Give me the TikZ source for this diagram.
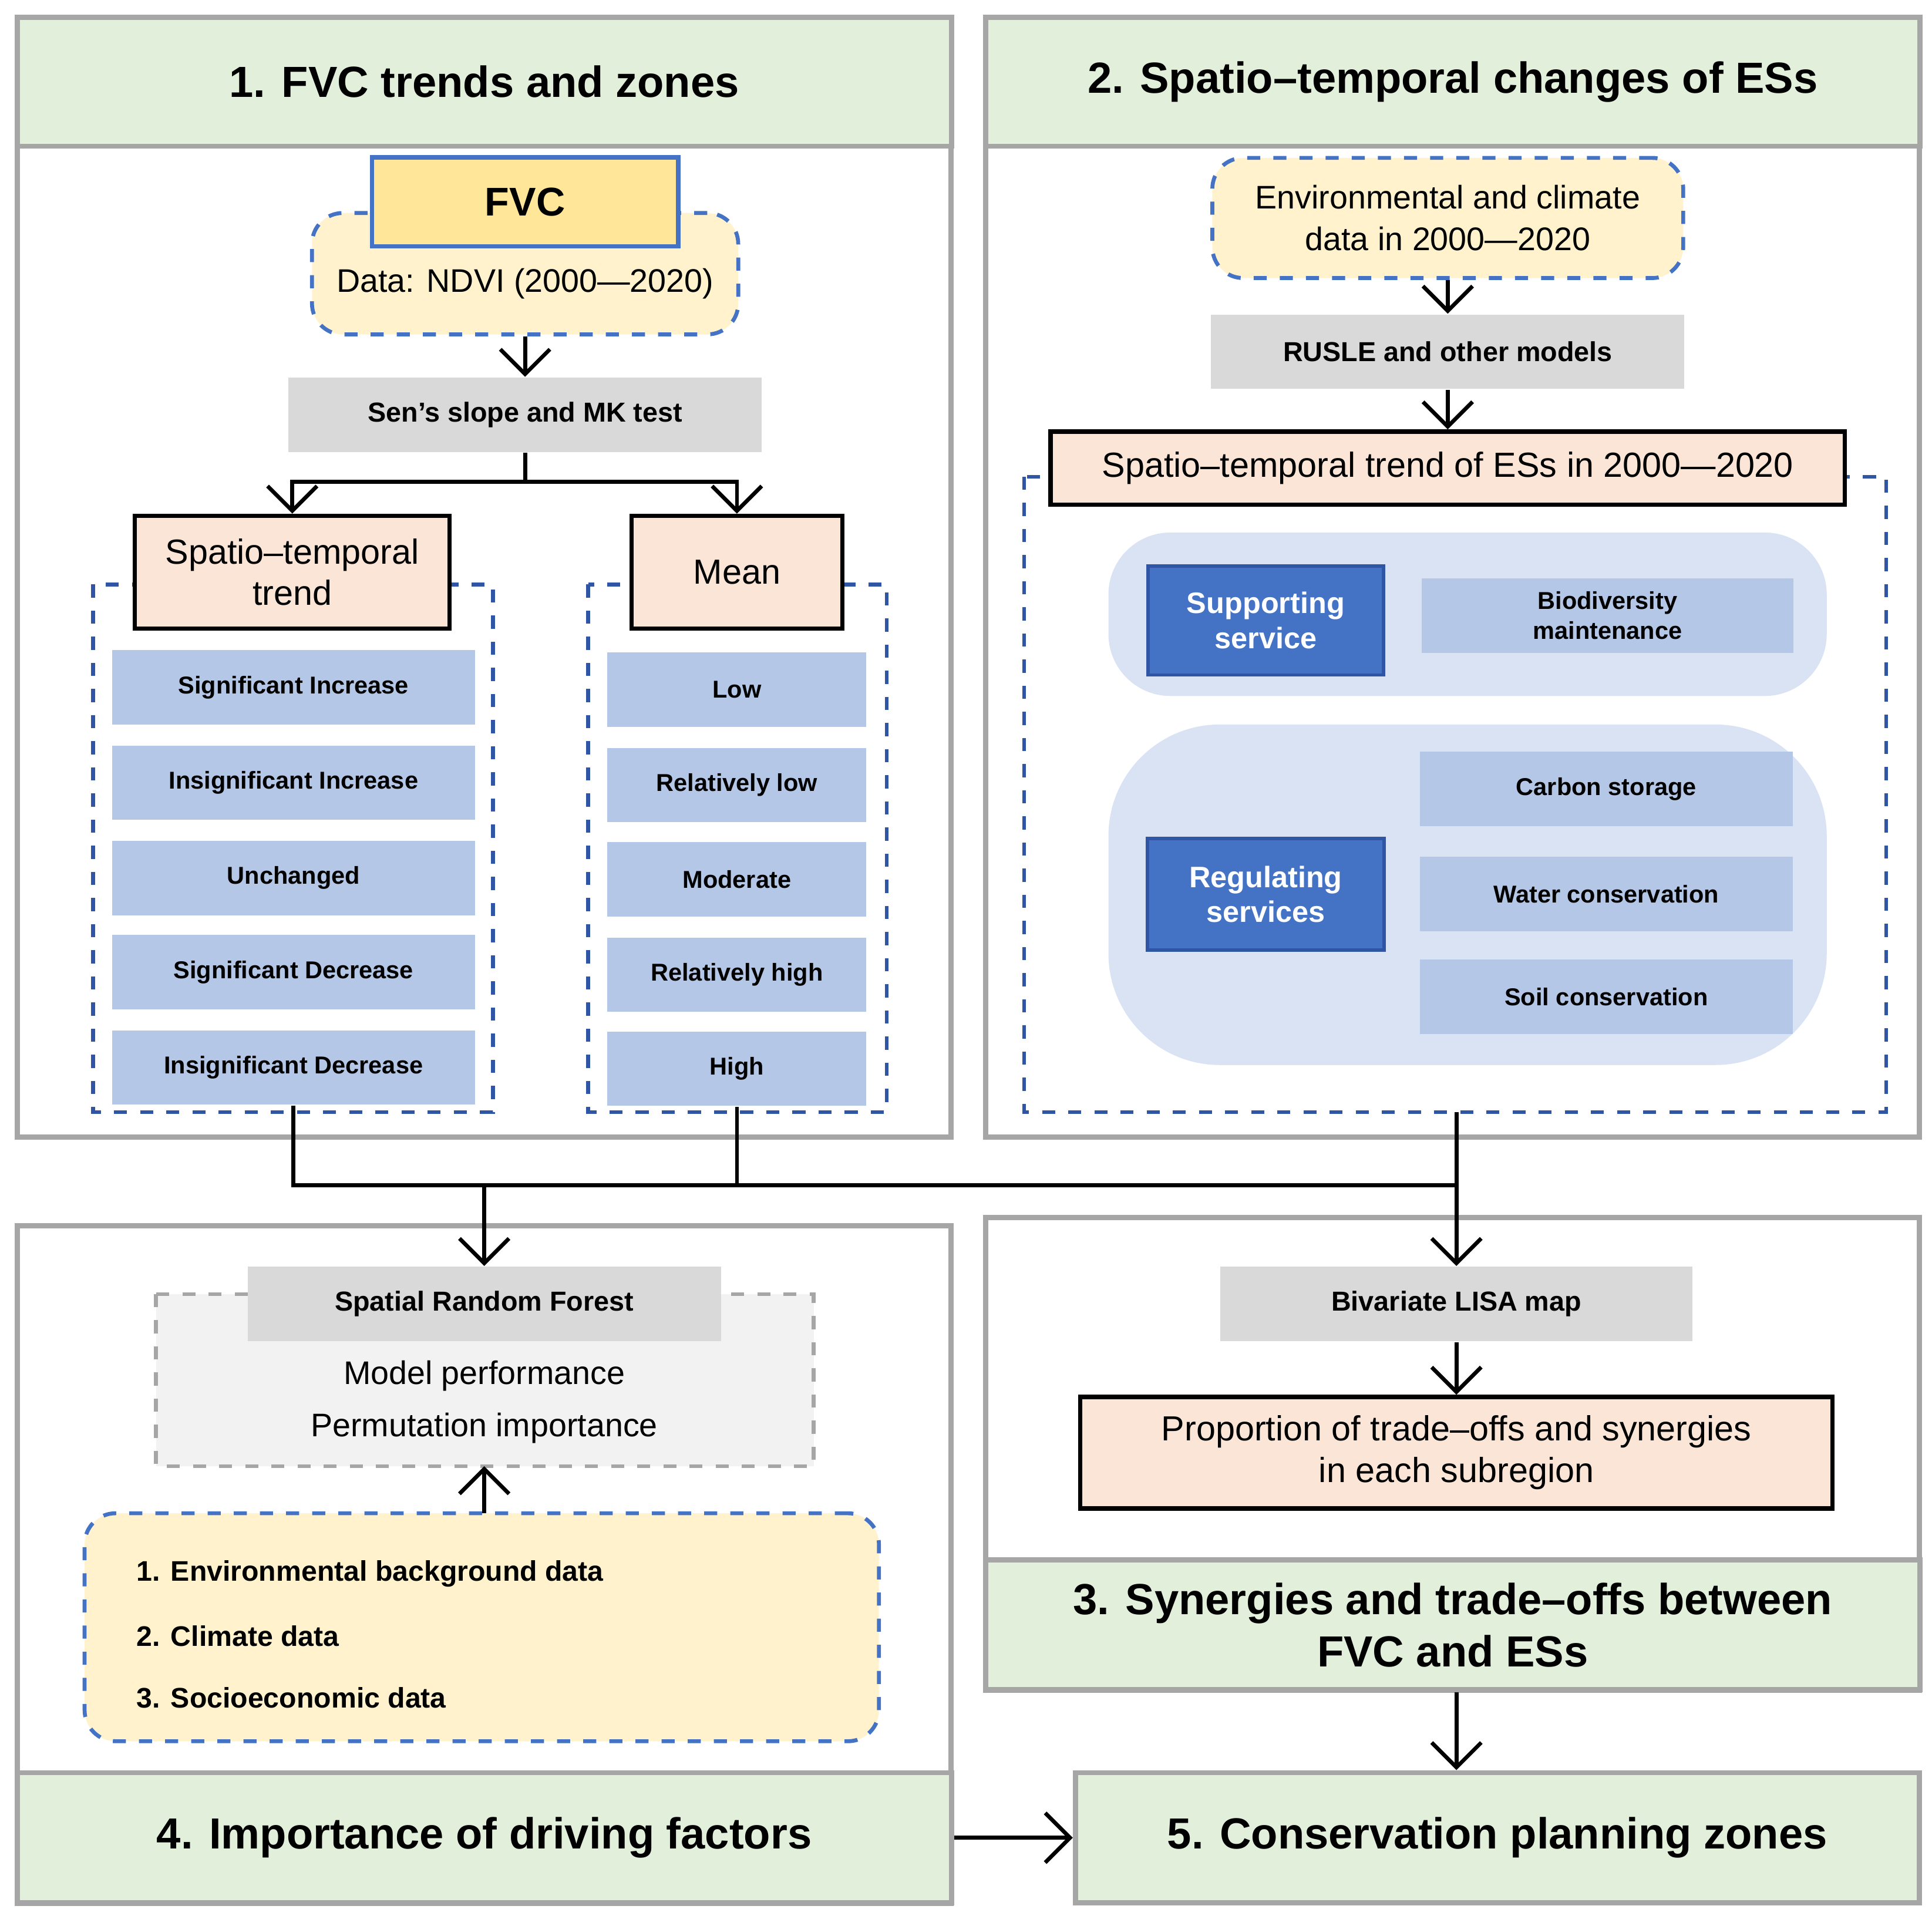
\documentclass[tikz,border=0pt]{standalone}
\usepackage{fontspec}
\setmainfont{Liberation Sans}
\usetikzlibrary{arrows.meta}
\definecolor{hdrgreen}{HTML}{E2EFDA}
\definecolor{panelgray}{HTML}{A6A6A6}
\definecolor{boxgray}{HTML}{D9D9D9}
\definecolor{lightgray}{HTML}{F2F2F2}
\definecolor{peach}{HTML}{FBE5D6}
\definecolor{fvcyellow}{HTML}{FFE699}
\definecolor{paleyellow}{HTML}{FFF2CC}
\definecolor{itemblue}{HTML}{B4C7E7}
\definecolor{paleblue}{HTML}{DAE3F3}
\definecolor{darkblue}{HTML}{4472C4}
\definecolor{dashblue}{HTML}{2F55A4}
\tikzset{
  >={Straight Barb[length=2mm]},
  panel/.style  = {draw=panelgray, line width=1.2pt},
  header/.style = {draw=panelgray, line width=1.2pt, fill=hdrgreen, font=\fontsize{10}{12}\selectfont\bfseries, align=center},
  method/.style = {fill=boxgray, font=\fontsize{6.3}{7.5}\selectfont\bfseries, inner sep=0pt},
  result/.style = {draw, line width=1pt, fill=peach, font=\fontsize{8}{9.5}\selectfont, align=center, inner sep=0pt},
  item/.style   = {fill=itemblue, font=\fontsize{5.6}{6.8}\selectfont\bfseries, align=center, inner sep=0pt},
  service/.style= {draw=dashblue, line width=0.8pt, fill=darkblue, text=white, font=\fontsize{6.8}{8}\selectfont\bfseries, align=center, inner sep=0pt},
  datab/.style  = {draw=darkblue, dashed, line width=0.9pt, rounded corners=2.5mm, fill=paleyellow, align=center, inner sep=0pt},
  group/.style  = {draw=dashblue, dashed, line width=0.9pt},
  conn/.style   = {line width=0.9pt}
}
\begin{document}
\begin{tikzpicture}[x=0.01cm,y=-0.01cm]
\useasboundingbox (0,0) rectangle (1560,1547);

%==================== PANELS ====================
\draw[panel] (14,14) rectangle (768,918);
\draw[panel] (796,14) rectangle (1550,918);
\draw[panel] (796,983) rectangle (1550,1365);
\draw[panel] (14,990) rectangle (768,1537);
\node[header, minimum width=7.54cm, minimum height=1.04cm] (h1) at (391,66) {1. FVC trends and zones};
\node[header, minimum width=7.54cm, minimum height=1.04cm] (h2) at (1173,66) {2. Spatio--temporal changes of ESs};
\node[header, minimum width=7.54cm, minimum height=1.05cm] (h3) at (1173,1312) {3. Synergies and trade--offs between\\FVC and ESs};
\node[header, minimum width=7.54cm, minimum height=1.05cm] (h4) at (391,1484) {4. Importance of driving factors};
\node[header, minimum width=6.81cm, minimum height=1.05cm] (h5) at (1209,1484) {5. Conservation planning zones};

%==================== PANEL 1 ====================
\node[datab, minimum width=3.44cm, minimum height=0.98cm, font=\fontsize{7.5}{9}\selectfont, text depth=0pt] (ndvi) at (424,221) {};
\node[font=\fontsize{7.5}{9}\selectfont] at (424,229) {Data: NDVI (2000---2020)};
\node[draw=darkblue, line width=1pt, fill=fvcyellow, minimum width=2.47cm, minimum height=0.72cm, font=\fontsize{9.2}{11}\selectfont\bfseries] (fvc) at (424,163) {FVC};
\node[method, minimum width=3.82cm, minimum height=0.6cm] (sen) at (424,335) {Sen’s slope and MK test};
\draw[conn,->] (ndvi) -- (sen);

\draw[group] (75,472) rectangle (398,898);
\draw[group] (475,472) rectangle (716,898);
\node[result, minimum width=2.54cm, minimum height=0.91cm] (trend) at (236,462) {Spatio--temporal\\trend};
\node[result, minimum width=1.70cm, minimum height=0.91cm] (mean) at (595,462) {Mean};
\coordinate (split) at (424,389);
\draw[conn] (sen) -- (split);
\draw[conn,->] (split) -| (trend);
\draw[conn,->] (split) -| (mean);

\foreach \y/\t [count=\i] in {555/Significant Increase,632/Insignificant Increase,709/Unchanged,785/Significant Decrease,862/Insignificant Decrease}
  \node[item, minimum width=2.93cm, minimum height=0.6cm] (tr\i) at (237,\y) {\t};
\foreach \y/\t [count=\i] in {557/Low,634/Relatively low,710/Moderate,787/Relatively high,863/High}
  \node[item, minimum width=2.09cm, minimum height=0.6cm] (mn\i) at (595,\y) {\t};

%==================== PANEL 2 ====================
\node[datab, minimum width=3.80cm, minimum height=0.97cm, font=\fontsize{7.5}{9.5}\selectfont] (env) at (1169,176) {Environmental and climate\\data in 2000---2020};
\node[method, minimum width=3.82cm, minimum height=0.6cm] (rusle) at (1169,284) {RUSLE and other models};
\draw[group] (827,385) rectangle (1523,898);
\node[result, minimum width=6.41cm, minimum height=0.59cm] (estrend) at (1169,378) {Spatio--temporal trend of ESs in 2000---2020};
\draw[conn,->] (env) -- (rusle);
\draw[conn,->] (rusle) -- (estrend);

\fill[paleblue, rounded corners=5mm] (895,430) rectangle (1475,562);
\fill[paleblue, rounded corners=9mm] (895,585) rectangle (1475,860);
\node[service, minimum width=1.90cm, minimum height=0.88cm] (supp) at (1022,501) {Supporting\\service};
\node[item, minimum width=3.00cm, minimum height=0.6cm] (bio) at (1298,497) {Biodiversity\\maintenance};
\node[service, minimum width=1.91cm, minimum height=0.90cm] (reg) at (1022,722) {Regulating\\services};
\foreach \y/\t [count=\i] in {637/Carbon storage,722/Water conservation,805/Soil conservation}
  \node[item, minimum width=3.01cm, minimum height=0.6cm] (es\i) at (1297,\y) {\t};

%==================== PANEL 4 ====================
\draw[draw=panelgray, dashed, line width=0.9pt, fill=lightgray] (126,1045) rectangle (657,1184);
\node[method, minimum width=3.82cm, minimum height=0.6cm] (srf) at (391,1053) {Spatial Random Forest};
\node[font=\fontsize{7.5}{9}\selectfont, align=center] (perf) at (391,1132) {Model performance\\[3pt]Permutation importance};
\node[datab, minimum width=6.41cm, minimum height=1.84cm] (drv) at (389,1314) {};
\node[font=\fontsize{6.5}{8}\selectfont\bfseries, anchor=west] (d1) at (98,1271) {1. Environmental background data};
\node[font=\fontsize{6.5}{8}\selectfont\bfseries, anchor=west] (d2) at (98,1321) {2. Climate data};
\node[font=\fontsize{6.5}{8}\selectfont\bfseries, anchor=west] (d3) at (98,1371) {3. Socioeconomic data};
\coordinate (drvtop) at (391,1222);
\coordinate (srfbot) at (391,1184);
\draw[conn,->] (drvtop) -- (srfbot);

%==================== PANEL 3 ====================
\node[method, minimum width=3.81cm, minimum height=0.6cm] (lisa) at (1176,1053) {Bivariate LISA map};
\node[result, minimum width=6.07cm, minimum height=0.90cm] (prop) at (1176,1173) {Proportion of trade--offs and synergies\\in each subregion};
\draw[conn,->] (lisa) -- (prop);
\draw[conn,->] (h3.south -| lisa) -- (h5.north -| lisa);
\draw[conn,->] (h4) -- (h5);

%==================== CONNECTIONS ====================
\coordinate (jl) at (237,957);
\coordinate (jr) at (1176,957);
\coordinate (esbot) at (1176,898);
\draw[conn] (tr5.south) -- (jl) -- (jr);
\draw[conn] (mn5.south) -- (mn5.south |- jl);
\draw[conn,->] (esbot) -- (lisa);
\draw[conn,->] (srf.north |- jl) -- (srf);
\end{tikzpicture}
\end{document}
